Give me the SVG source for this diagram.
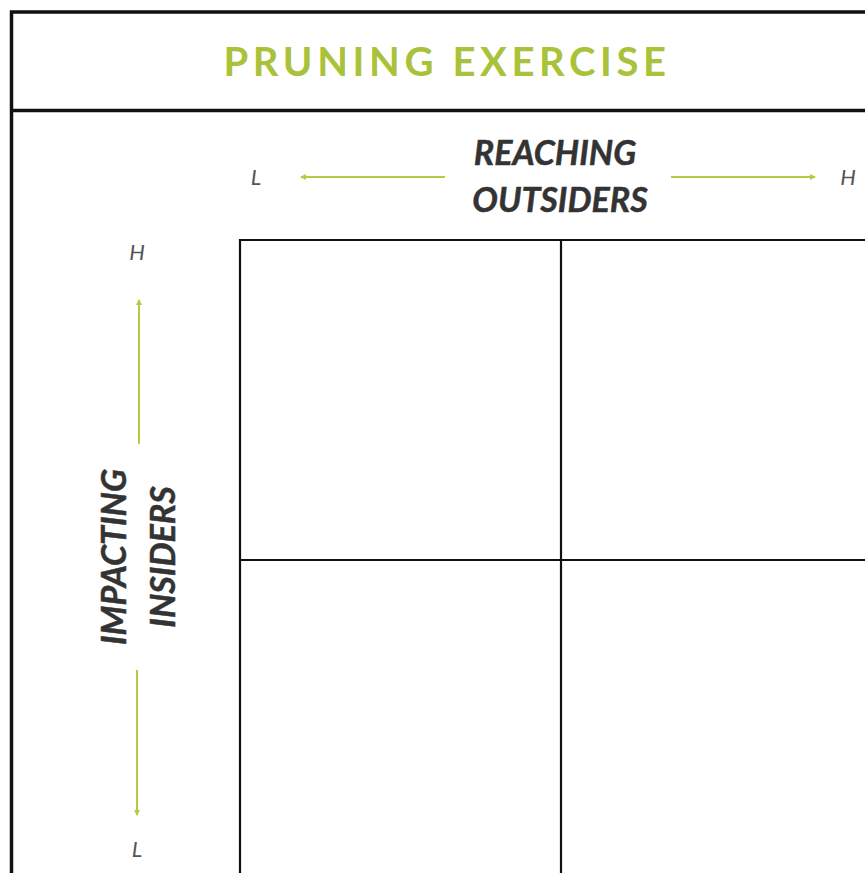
<svg xmlns="http://www.w3.org/2000/svg" width="865" height="873" viewBox="0 0 865 873">
<style>
.frame{fill:none;stroke:#111;stroke-width:3.5}
.grid{fill:none;stroke:#111;stroke-width:2.2}
.arr{stroke:#b3cc43;stroke-width:2;fill:none}
.title{font-family:Lato,"Liberation Sans",sans-serif;font-weight:bold;font-size:40px;fill:#a9c23a;letter-spacing:4.6px}
.axis{font-family:Lato,"Liberation Sans",sans-serif;font-weight:bold;font-style:italic;font-size:34px;fill:#333;stroke:#333;stroke-width:0.5}
.lh{font-family:Lato,"Liberation Sans",sans-serif;font-style:italic;font-size:22px;fill:#555}
</style>
<defs>
<marker id="ah" markerWidth="6" markerHeight="6" refX="5" refY="3" orient="auto" markerUnits="userSpaceOnUse">
<path d="M0,0 L6,3 L0,6 Z" fill="#b3cc43"/>
</marker>
</defs>
<rect width="865" height="873" fill="#fff"/>
<g id="frame">
<path class="frame" d="M11.5,873 V12 H865"/>
<path class="frame" d="M11.5,110.5 H865"/>
</g>
<g id="title">
<text class="title" x="447" y="76" text-anchor="middle">PRUNING EXERCISE</text>
</g>
<g id="grid">
<path class="grid" d="M240,873 V240 H865 M561,240 V873 M240,560 H865"/>
</g>
<g id="x-axis">
<text class="axis" x="555" y="165" text-anchor="middle">REACHING</text>
<text class="axis" x="560" y="212" text-anchor="middle">OUTSIDERS</text>
<text class="lh" x="256" y="185" text-anchor="middle">L</text>
<text class="lh" x="848" y="185" text-anchor="middle">H</text>
</g>
<g id="y-axis">
<text class="axis" transform="translate(126,557) rotate(-90)" text-anchor="middle">IMPACTING</text>
<text class="axis" transform="translate(175,557) rotate(-90)" text-anchor="middle">INSIDERS</text>
<text class="lh" x="137" y="260" text-anchor="middle">H</text>
<text class="lh" x="137" y="857" text-anchor="middle">L</text>
</g>
<g id="connectors">
<line class="arr" x1="445" y1="177" x2="301" y2="177" marker-end="url(#ah)"/>
<line class="arr" x1="671" y1="177" x2="815" y2="177" marker-end="url(#ah)"/>
<line class="arr" x1="139" y1="444" x2="139" y2="300" marker-end="url(#ah)"/>
<line class="arr" x1="137" y1="670" x2="137" y2="815" marker-end="url(#ah)"/>
</g>
</svg>
